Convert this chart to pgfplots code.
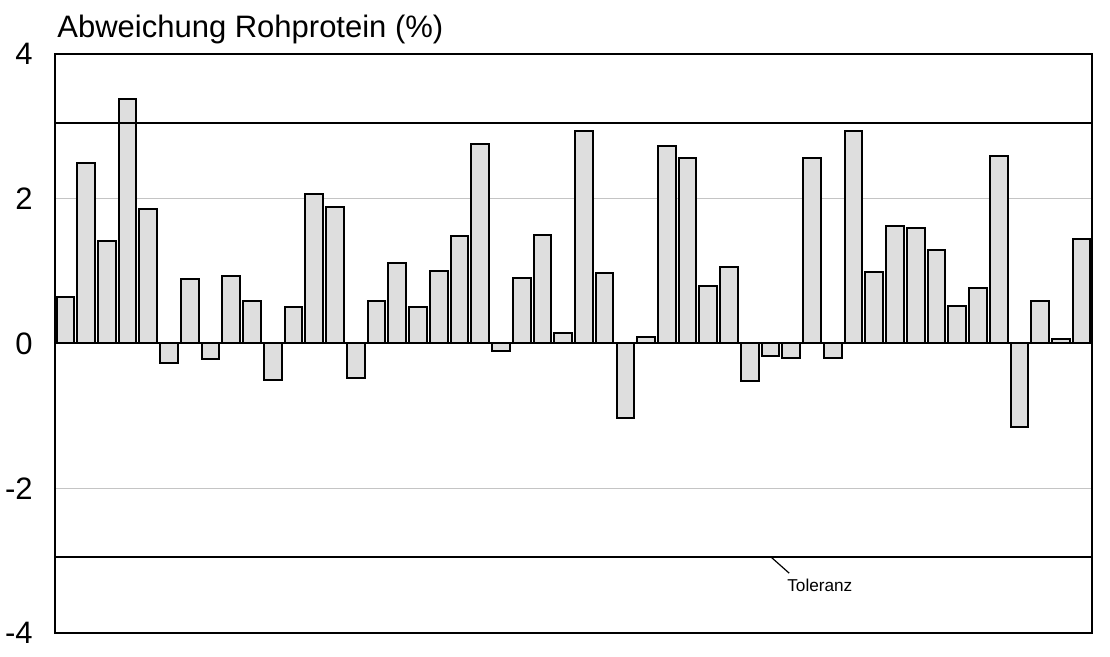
\documentclass[border=0pt]{standalone}
\usepackage{pgfplots}
\pgfplotsset{compat=1.18}
\usepackage{pgfplotstable}
\usetikzlibrary{calc}
\usepackage{fontspec}
\setmainfont{Liberation Sans}
\definecolor{barfill}{HTML}{DEDEDE}
\definecolor{gridgray}{HTML}{C4C4C4}
\pgfplotstableread{
x y
1 0.646
2 2.50
3 1.416
4 3.38
5 1.853
6 -0.265
7 0.886
8 -0.21
9 0.937
10 0.587
11 -0.50
12 0.50
13 2.06
14 1.885
15 -0.472
16 0.587
17 1.116
18 0.50
19 1.006
20 1.485
21 2.75
22 -0.10
23 0.91
24 1.50
25 0.14
26 2.94
27 0.974
28 -1.034
29 0.09
30 2.73
31 2.56
32 0.79
33 1.057
34 -0.52
35 -0.17
36 -0.205
37 2.56
38 -0.205
39 2.94
40 0.99
41 1.62
42 1.60
43 1.29
44 0.518
45 0.76
46 2.59
47 -1.15
48 0.587
49 0.06
50 1.44
}\bars
\begin{document}
\begin{tikzpicture}
\begin{axis}[
  scale only axis,
  width=518.5pt, height=289.5pt,
  xmin=0.5, xmax=50.5,
  ymin=-4, ymax=4,
  xtick=\empty,
  ytick={-4,-2,0,2,4},
  yticklabels={-4,-2,0,2,4},
  major tick length=0pt,
  yticklabel style={font=\fontsize{15.5}{18}\selectfont, anchor=east, inner sep=0pt, xshift=-11pt},
  ymajorgrids,
  grid style={gridgray, line width=0.5pt},
  axis line style={black, line width=1pt},
  clip=false,
]
\addplot[ybar, bar width=0.853, fill=barfill, draw=black, line width=1pt] table[x=x,y=y] {\bars};
\addplot[black, line width=1pt, sharp plot, mark=none] coordinates {(0.5,0) (50.5,0)};
\addplot[black, line width=1pt, sharp plot, mark=none] coordinates {(0.5,3.05) (50.5,3.05)};
\addplot[black, line width=1pt, sharp plot, mark=none] coordinates {(0.5,-2.95) (50.5,-2.95)};
\draw[black, line width=0.6pt] (axis cs:35.02,-2.95) -- (axis cs:35.9,-3.174);
\node[anchor=base west, inner sep=0pt, font=\fontsize{8.6}{10}\selectfont] at (axis cs:35.79,-3.428) {Toleranz};
\node[anchor=base west, inner sep=0pt, xshift=1pt, yshift=8pt, font=\fontsize{15.5}{18}\selectfont] at (rel axis cs:0,1) {Abweichung Rohprotein (\%)};
\coordinate (bl) at (rel axis cs:0,0);
\coordinate (tr) at (rel axis cs:1,1);
\end{axis}
\pgfresetboundingbox
\path[use as bounding box] ($(bl)+(-27.5pt,-12pt)$) rectangle ($(tr)+(9pt,27pt)$);
\end{tikzpicture}
\end{document}
